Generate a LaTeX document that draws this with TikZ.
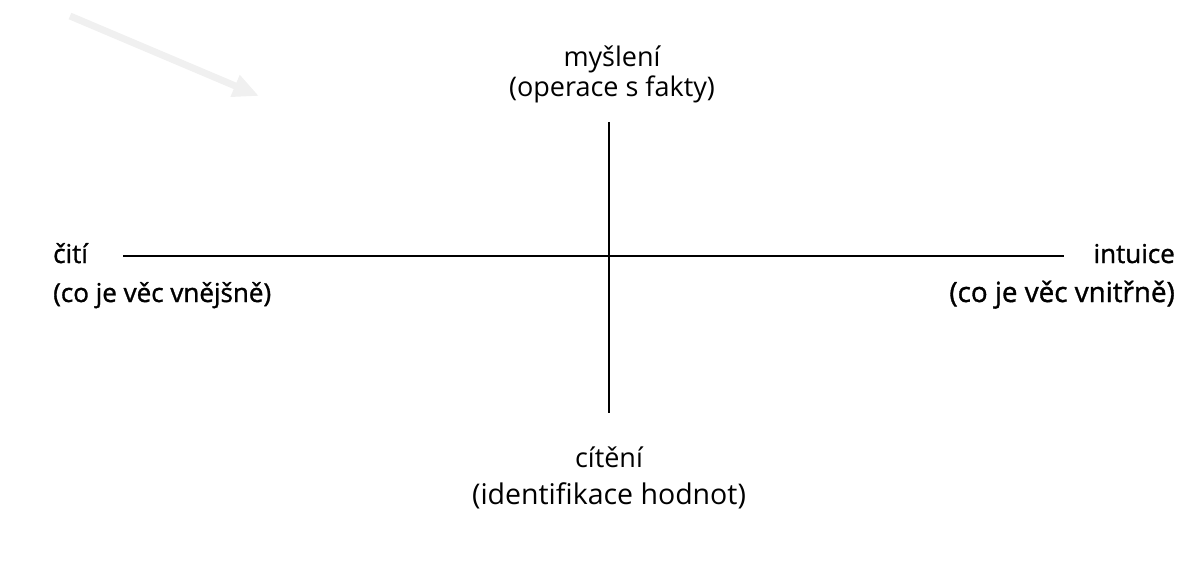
\documentclass[tikz,border=0pt]{standalone}
\usepackage{fontspec}
\setmainfont{Open Sans}
\newfontfamily\darkfont[FakeBold=1.2]{Open Sans}
\usetikzlibrary{arrows.meta}
\begin{document}
\begin{tikzpicture}[x=1pt,y=-1pt,
  axis/.style={line width=1.5pt,black},
  lbl/.style={inner sep=0pt,font=\fontsize{27}{27}\selectfont},
  dlbl/.style={inner sep=0pt,font=\darkfont\fontsize{26}{26}\selectfont},
  faint/.style={draw=black!6,line width=7pt,-{Triangle[length=26pt,width=22pt]}}]
\useasboundingbox (0,0) rectangle (1181,575);
% faint arrow (scan artefact)
\coordinate (fa) at (70,16);
\coordinate (fb) at (259,96);
\draw[faint] (fa) -- (fb);
% axes
\coordinate (top) at (609,122);
\coordinate (bot) at (609,413);
\coordinate (lft) at (123,256);
\coordinate (rgt) at (1064,256);
\draw[axis] (top) -- (bot);
\draw[axis] (lft) -- (rgt);
% labels
\node[lbl,anchor=base] (t1) at (612,67) {myšlení};
\node[lbl,anchor=base] (t2) at (612,97) {(operace s fakty)};
\node[dlbl,anchor=base west] (l1) at (53,263) {čití};
\node[dlbl,anchor=base west] (l2) at (53,302) {(co je věc vnějšně)};
\node[dlbl,anchor=base east] (r1) at (1175,263) {intuice};
\node[dlbl,anchor=base east,font=\darkfont\fontsize{27.8}{27.8}\selectfont] (r2) at (1175,302) {(co je věc vnitřně)};
\node[lbl,anchor=base] (b1) at (609,467) {cítění};
\node[lbl,anchor=base,font=\fontsize{28.5}{28.5}\selectfont] (b2) at (609,504) {(identifikace hodnot)};
\end{tikzpicture}
\end{document}
